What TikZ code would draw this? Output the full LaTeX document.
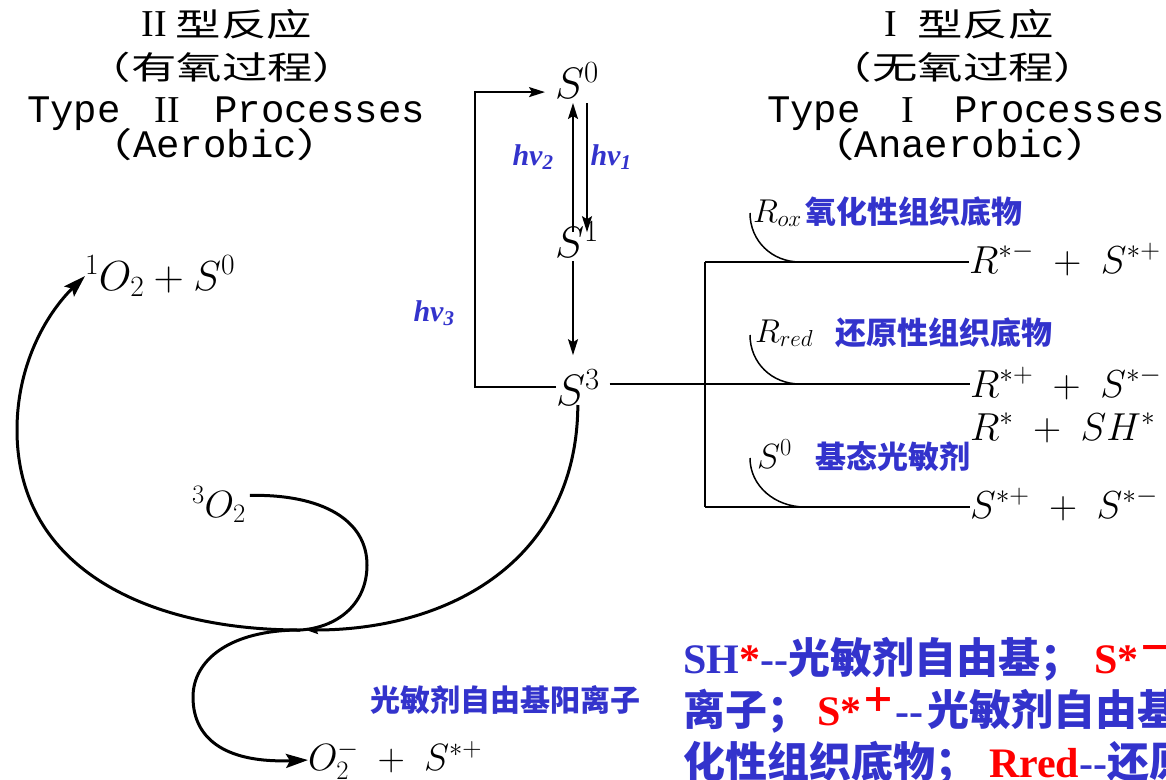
\documentclass[tikz,border=0pt]{standalone}
\usepackage{fix-cm}
\usepackage{fontspec}
\usetikzlibrary{arrows.meta}
\newfontfamily\cjk{Noto Sans CJK SC}
\newfontfamily\cjkw{Noto Sans CJK SC}[FakeStretch=1.42]
\newfontfamily\tnr{Liberation Serif}
\newfontfamily\mono{Liberation Mono}
\definecolor{lblue}{RGB}{51,51,204}
\definecolor{lred}{RGB}{255,0,0}
\newcommand\fs[1]{\fontsize{#1}{#1}\selectfont}
\newcommand\romcell[1]{\makebox[46.8pt]{\fs{38}\tnr #1}}
\begin{document}
\begin{tikzpicture}[x=1pt,y=-1pt,
  lbl/.style={inner sep=0pt,outer sep=0pt},
  title/.style={lbl,anchor=center},
  tl3/.style={lbl,anchor=base,text height=26pt,text depth=3pt},
  tl4/.style={lbl,anchor=base,text height=24pt,text depth=6pt},
  cn/.style={lbl,text=lblue,font=\fs{31}\cjk\bfseries},
  hv/.style={lbl,text=lblue,font=\fs{30}\tnr\bfseries\itshape},
  sarrow/.style={line width=1.8pt,-{Stealth[length=16pt,width=10pt,inset=3pt]}},
  thinline/.style={line width=1.8pt},
  arcline/.style={line width=1.5pt},
  curve/.style={line width=3pt},
  bigtip/.style={-{Stealth[length=22pt,width=14pt,inset=4pt]}},
  smalltip/.style={-{Stealth[length=12pt,width=8pt,inset=2pt]}},
  note/.style={lbl,anchor=base west,text=lblue}
]
\useasboundingbox (0,0) rectangle (1166,779);
\fill[white] (0,0) rectangle (1166,779);
\clip (0,0) rectangle (1166,779);

% ---- titles ----
\node[title] (t1a) at (227,24) {{\fs{38}\tnr II}\hspace{9pt}{\fs{32}\cjkw 型反应}};
\node[title] (t1b) at (222,67) {\fs{32}\cjkw （有氧过程）};
\node[tl3] (t1c) at (226,122) {\fs{39}\mono Type \romcell{II} Processes};
\node[tl4] (t1d) at (215,157) {\fs{39}{\fs{34}\cjkw （}\mono Aerobic{\fs{34}\cjkw ）}};

\node[title] (t2a) at (969,24) {{\fs{38}\tnr I}\hspace{20pt}{\fs{32}\cjkw 型反应}};
\node[title] (t2b) at (963,67) {\fs{32}\cjkw （无氧过程）};
\node[tl3] (t2c) at (966,122) {\fs{39}\mono Type \romcell{I} Processes};
\node[tl4] (t2d) at (960,157) {\fs{39}{\fs{34}\cjkw （}\mono Anaerobic{\fs{34}\cjkw ）}};

% ---- states ----
\node[lbl,anchor=base west] (S0) at (555,98) {\fs{44}$S^0$};
\node[lbl,anchor=base west] (S1) at (555,257) {\fs{44}$S^1$};
\node[lbl,anchor=base west] (S3) at (556,405) {\fs{44}$S^3$};

\draw[sarrow,shorten <=-11pt,shorten >=5pt] (573,0 |- S1.north) -- (573,0 |- S0.south);
\draw[sarrow,shorten <=5pt,shorten >=-11pt] (587,0 |- S0.south) -- (587,0 |- S1.north);
\draw[sarrow,shorten <=4pt,shorten >=14pt] (573,0 |- S1.south) -- (573,0 |- S3.north);
\node[hv] (hv2) at (533,157) {hv\textsubscript{2}};
\node[hv] (hv1) at (611,157) {hv\textsubscript{1}};
\node[hv] (hv3) at (434,313) {hv\textsubscript{3}};

\coordinate (loopA) at (475,0);
\draw[sarrow,shorten >=10pt] (S3.west) -- (loopA |- S3.west) |- ([yshift=-12pt]S0.west);

% ---- Type I branch ----
\coordinate (br) at (705,384);
\coordinate (bt) at (705,262);
\coordinate (bb) at (705,507);
\node[lbl,anchor=base west] (P1) at (969,273) {\fs{39}$R^{*-}\;+\;S^{*+}$};
\node[lbl,anchor=base west] (P2) at (970,397) {\fs{39}$R^{*+}\;+\;S^{*-}$};
\node[lbl,anchor=base west] (P3) at (970,440) {\fs{39}$R^{*}\;+\;SH^{*}$};
\node[lbl,anchor=base west] (P4) at (970,518) {\fs{39}$S^{*+}\;+\;S^{*-}$};

\draw[thinline,shorten <=10pt] (S3.east |- br) -- (br);
\draw[thinline] (bt) -- (bb);
\draw[thinline] (bt) -- (P1.west |- bt);
\draw[thinline] (br) -- (P2.west |- br);
\draw[thinline] (bb) -- (P4.west |- bb);

\draw[arcline] (750,213) .. controls (750,241) and (772,262) .. (800,262);
\draw[arcline] (750,335) .. controls (750,363) and (772,384) .. (800,384);
\draw[arcline] (750,458) .. controls (750,486) and (775,507) .. (805,507);

\node[lbl,anchor=base west] (Rox) at (753,222) {\fs{33}$R_{ox}$};
\node[cn,anchor=west] (Roxt) at (805,212) {氧化性组织底物};
\node[lbl,anchor=base west] (Rred) at (755,342) {\fs{33}$R_{red}$};
\node[cn,anchor=west] (Rredt) at (835,333) {还原性组织底物};
\node[lbl,anchor=base west] (Sg) at (757,468) {\fs{35}$S^{0}$};
\node[cn,anchor=west] (Sgt) at (815,457) {基态光敏剂};

% ---- Type II branch ----
\node[lbl,anchor=base west] (O1) at (85,290) {\fs{42}$^1O_2+S^0$};
\node[lbl,anchor=base west] (O3) at (192,517) {\fs{38}$^3O_2$};
\node[lbl,anchor=base west] (O2m) at (308,770) {\fs{38}$O_2^-\;+\;S^{*+}$};
\node[cn,anchor=west] (cat) at (370,700) {\fs{30}光敏剂自由基阳离子};

\coordinate (J) at (300,630);
\draw[curve,smalltip] (S3.south) .. controls (577,560) and (450,630) .. ([xshift=6pt]J);
\draw[curve] ([xshift=4pt,yshift=9pt]O3.east) .. controls (322,494) and (367,520) .. (367,565)
   .. controls (367,606) and (335,628) .. (J);
\draw[curve,bigtip] (J) .. controls (150,630) and (17,570) .. (17,430)
   .. controls (17,360) and (50,310) .. (O1.west);
\draw[curve,bigtip] (J) .. controls (230,630) and (193,660) .. (193,697)
   .. controls (193,742) and (230,763) .. (O2m.west);

% ---- legend text (cut by the right edge, as in the source) ----
\node[note] (n1) at (683,673) {\fs{42}{\tnr\bfseries SH}{\color{lred}\tnr\bfseries *}{\tnr\bfseries -{}-}{\cjk\bfseries 光敏剂自由基；}\hspace{12pt}{\color{lred}\tnr\bfseries S*\raisebox{0.3em}{\fs{34}\cjk －}}};
\node[note] (n2) at (683,725) {\fs{42}{\cjk\bfseries 离子；}\hspace{8pt}{\color{lred}\tnr\bfseries S*\raisebox{0.3em}{\fs{34}\cjk ＋}}{\tnr\bfseries -{}-}\hspace{4pt}{\cjk\bfseries 光敏剂自由基}};
\node[note] (n3) at (683,777) {\fs{42}{\cjk\bfseries 化性组织底物；}\hspace{12pt}{\color{lred}\tnr\bfseries Rred}{\tnr\bfseries -{}-}{\cjk\bfseries 还原}};
\end{tikzpicture}
\end{document}
